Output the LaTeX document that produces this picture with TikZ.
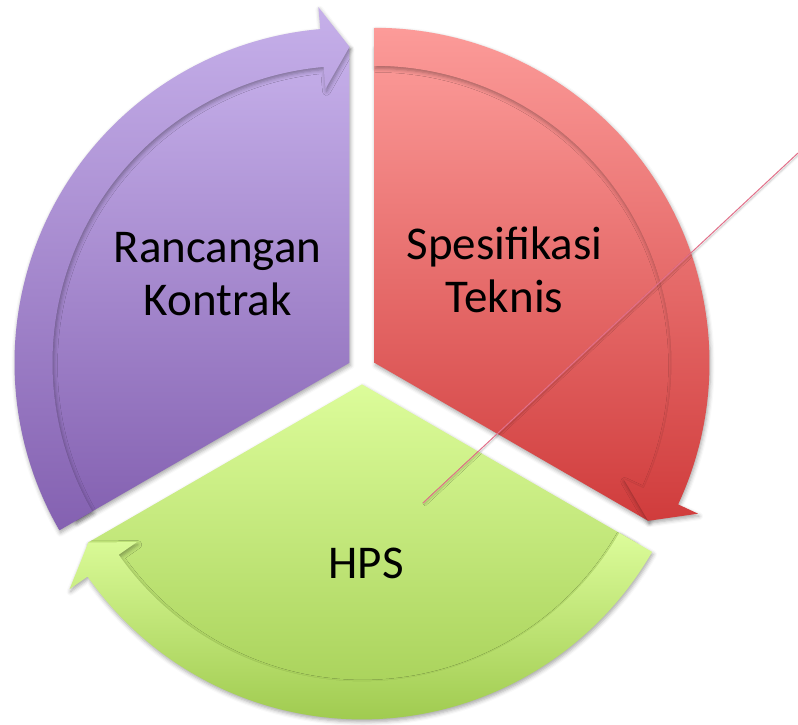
\documentclass[tikz,border=0pt]{standalone}
\usepackage{fontspec}
\setmainfont{Carlito}
\usetikzlibrary{shadows.blur}

\definecolor{purpleTop}{HTML}{C6B0EA}
\definecolor{purpleBot}{HTML}{8461B1}
\definecolor{redTop}{HTML}{FC9B99}
\definecolor{redBot}{HTML}{D03C3C}
\definecolor{greenTop}{HTML}{DCFC9A}
\definecolor{greenBot}{HTML}{A0CB50}
\definecolor{pinkLine}{HTML}{E2708A}

\tikzset{
  piece shadow/.style={blur shadow={shadow xshift=1pt, shadow yshift=-2.5pt,
      shadow blur radius=4pt, shadow opacity=35}},
  purple piece/.style={piece shadow, top color=purpleTop, bottom color=purpleBot},
  red piece/.style={piece shadow, top color=redTop, bottom color=redBot},
  green piece/.style={piece shadow, top color=greenTop, bottom color=greenBot},
  label text/.style={font=\fontsize{47}{53}\selectfont, text=black, align=center,
      inner sep=0pt},
  stray line/.style={draw=pinkLine, line width=1pt,
      blur shadow={shadow xshift=1pt, shadow yshift=-1.5pt, shadow blur radius=2pt,
      shadow opacity=25}}
}

% wedge body: apex at the origin, from tail angle #1 clockwise to head angle #2
\newcommand{\wedgebody}[3]{%
  \path[#3] (0,0) -- (#1:316) arc[start angle=#1, end angle=#2, radius=316] -- cycle;}

% curved arrow band on the rim of a wedge, tail at #1, tip at #2
\newcommand{\wedgeband}[3]{%
  \pgfmathsetmacro\headbase{#2+5}%
  \path[#3] (#1:335) arc[start angle=#1, end angle=\headbase, radius=335]
    -- (\headbase:357) -- (#2:316) -- (\headbase:275) -- (\headbase:297)
    arc[start angle=\headbase, end angle=#1, radius=297] -- cycle;}

\begin{document}
\begin{tikzpicture}[x=1pt, y=1pt]
  \useasboundingbox (-362,-354) rectangle (436,370);

  % left wedge
  \begin{scope}[shift={(-12.5,7.2)}]
    \wedgebody{210}{90}{purple piece}
    \wedgeband{210}{90}{purple piece}
  \end{scope}

  % right wedge
  \begin{scope}[shift={(12.5,7.2)}]
    \wedgebody{90}{-30}{red piece}
    \wedgeband{90}{-30}{red piece}
  \end{scope}

  % bottom wedge
  \begin{scope}[shift={(0,-14.4)}]
    \wedgebody{330}{210}{green piece}
    \wedgeband{330}{210}{green piece}
  \end{scope}

  % labels (base anchor sits on the last line)
  \node[label text, anchor=base] (rancangan) at (-144.5,55) {Rancangan\\Kontrak};
  \node[label text, anchor=base] (spesifikasi) at (142.5,58) {Spesifikasi\\Teknis};
  \node[label text, anchor=base] (hps) at (4,-208) {HPS};

  % thin line crossing the right wedge
  \coordinate (lineStart) at (436,217);
  \coordinate (lineEnd) at (61,-133);
  \draw[stray line] (lineStart) -- (lineEnd);
\end{tikzpicture}
\end{document}
